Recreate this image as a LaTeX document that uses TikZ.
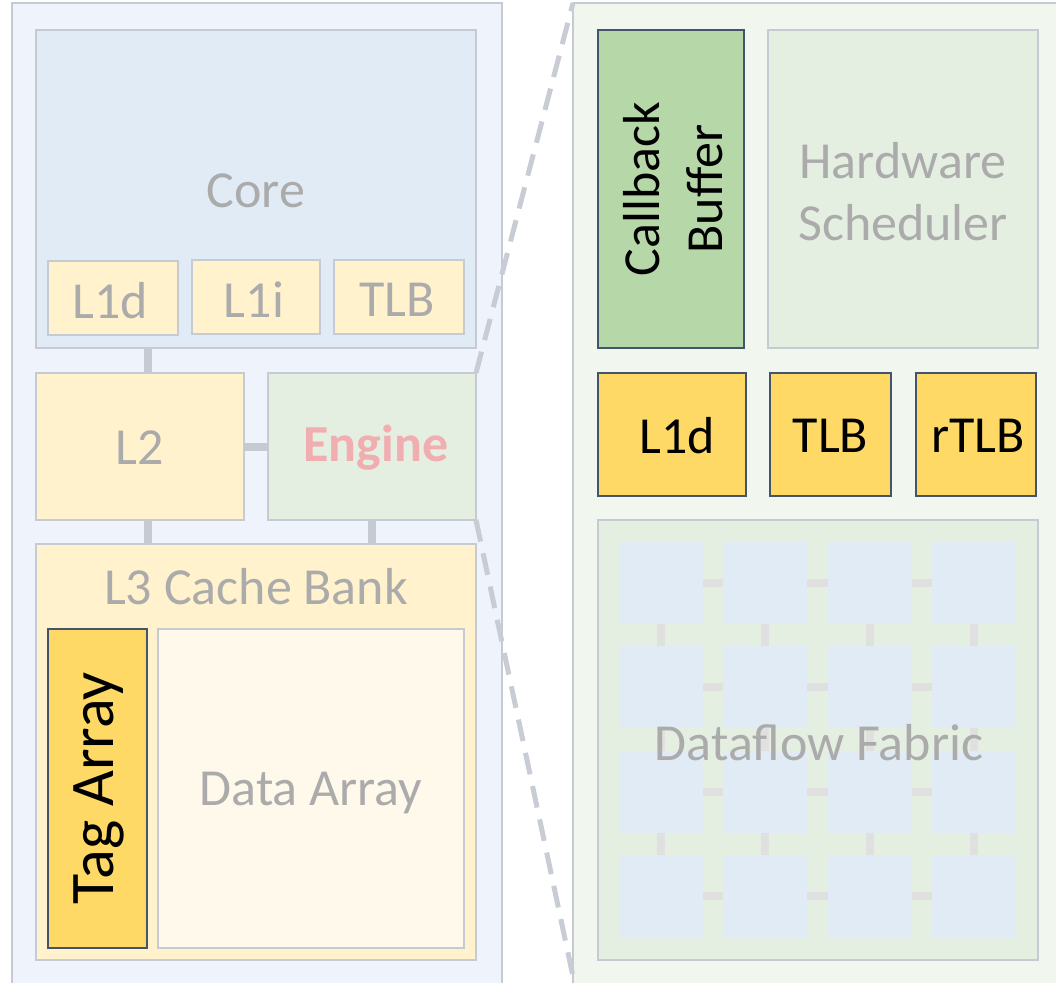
\documentclass[tikz,border=0pt]{standalone}
\usepackage{fontspec}
\setmainfont{Carlito}
\definecolor{bordergray}{HTML}{C5CAD3}
\definecolor{panelblue}{HTML}{EEF3FC}
\definecolor{coreblue}{HTML}{E1EBF6}
\definecolor{lightyellow}{HTML}{FFF2CC}
\definecolor{paleyellow}{HTML}{FFF9EB}
\definecolor{gold}{HTML}{FFD966}
\definecolor{darkedge}{HTML}{44546A}
\definecolor{panelgreen}{HTML}{F1F7EF}
\definecolor{boxgreen}{HTML}{E4EFE2}
\definecolor{cbgreen}{HTML}{B6D7A8}
\definecolor{graytext}{HTML}{ABABAB}
\definecolor{pinktext}{HTML}{F0AEB0}
\definecolor{tileblue}{HTML}{E0EBF6}
\definecolor{linkgray}{HTML}{E0E0E0}
\definecolor{dashgray}{HTML}{C8CCD4}
\tikzset{
  blk/.style={draw=bordergray, line width=1.5pt, inner sep=0pt, outer sep=0pt, rectangle, text=graytext,
     font=\fontsize{52}{62}\selectfont, align=center},
  hot/.style={draw=darkedge, line width=2pt, inner sep=0pt, outer sep=0pt, rectangle, text=black,
     font=\fontsize{52}{63}\selectfont, align=center},
  sz/.style 2 args={minimum width=#1, minimum height=#2},
  link/.style={draw=bordergray, line width=8pt},
  tlink/.style={draw=linkgray, line width=8pt},
  tile/.style={fill=tileblue, draw=none, inner sep=0pt, outer sep=0pt, minimum width=84pt, minimum height=82pt},
  zoomline/.style={draw=dashgray, line width=5pt, dash pattern=on 22pt off 12pt},
  lbl/.style={text=graytext, font=\fontsize{52}{62}\selectfont}
}
\begin{document}
\begin{tikzpicture}[x=1pt,y=-1pt]
\clip (0,0) rectangle (1056,982);
\fill[white] (0,0) rectangle (1056,982);
% panels
\node[blk, fill=panelblue, sz={490pt}{1000pt}] (leftpanel) at (257,503) {};
\node[blk, fill=panelgreen, sz={500pt}{1000pt}] (rightpanel) at (823,503) {};
% left side
\node[blk, fill=coreblue, sz={440pt}{318pt}] (core) at (256,189) {};
\node[lbl] (coretext) at (256,191) {Core};
\node[blk, fill=lightyellow, sz={130pt}{74pt}] (l1d) at (113,298) {};
\node[lbl] (l1dtext) at (110,301) {L1d};
\node[blk, fill=lightyellow, sz={128pt}{74pt}] (l1i) at (256,297) {};
\node[lbl] (l1itext) at (254,300) {L1i};
\node[blk, fill=lightyellow, sz={130pt}{74pt}] (tlb) at (399,297) {};
\node[lbl] (tlbtext) at (397,300) {TLB};
\node[blk, fill=lightyellow, sz={208pt}{147pt}] (l2) at (140,446.5) {};
\node[lbl] (l2text) at (140,448) {L2};
\node[blk, fill=boxgreen, sz={208pt}{147pt}] (engine) at (372,446.5) {};
\node[text=pinktext, font=\fontsize{52}{62}\selectfont\bfseries] (enginetext) at (376,448) {Engine};
\node[blk, fill=lightyellow, sz={440pt}{416pt}] (l3) at (256,752) {};
\node[lbl] (l3text) at (256,587) {L3 Cache Bank};
\node[hot, fill=gold, sz={99pt}{319pt}] (tag) at (97.5,788.5) {};
\node[rotate=90, font=\fontsize{62}{70}\selectfont] (tagtext) at (99,788.5) {Tag Array};
\node[blk, fill=paleyellow, sz={306pt}{319pt}] (data) at (311,788.5) {};
\node[lbl] (datatext) at (311,793) {Data Array};
% left connectors
\draw[link] ([xshift=8pt]l2.north) -- ([xshift=8pt]l2.north |- core.south);
\draw[link] ([xshift=8pt]l2.south) -- ([xshift=8pt]l2.south |- l3.north);
\draw[link] (engine.south) -- (engine.south |- l3.north);
\draw[link] (l2.east) -- (engine.west);
% right side
\node[hot, fill=cbgreen, sz={146pt}{318pt}] (cb) at (671,189) {};
\node[rotate=90, align=center, font=\fontsize{52}{63}\selectfont] (cbtext) at (673,189) {Callback\\Buffer};
\node[blk, fill=boxgreen, sz={270pt}{318pt}] (hs) at (903,189) {};
\node[lbl, align=center] (hstext) at (903,192) {Hardware\\Scheduler};
\node[hot, fill=gold, sz={148pt}{123pt}] (rl1d) at (672,434.5) {};
\node[font=\fontsize{52}{62}\selectfont] (rl1dtext) at (677,436) {L1d};
\node[hot, fill=gold, sz={121pt}{123pt}] (rtlb) at (830.5,434.5) {};
\node[font=\fontsize{52}{62}\selectfont] (rtlbtext) at (830.5,436) {TLB};
\node[hot, fill=gold, sz={120pt}{123pt}] (rrtlb) at (976,434.5) {};
\node[font=\fontsize{52}{62}\selectfont] (rrtlbtext) at (978,436) {rTLB};
\node[blk, fill=boxgreen, sz={440pt}{440pt}] (fabric) at (818,740) {};
% tiles
\foreach \i in {0,1,2,3}{
  \foreach \j in {0,1,2,3}{
    \node[tile] (t-\i-\j) at ({661+104.3*\i},{583+104.3*\j}) {};
  }
}
\foreach \i [evaluate=\i as \n using int(\i+1)] in {0,1,2}{
  \foreach \j in {0,1,2,3}{
    \draw[tlink] (t-\i-\j.east) -- (t-\n-\j.west);
    \draw[tlink] (t-\j-\i.south) -- (t-\j-\n.north);
  }
}
\node[lbl] (fabtext) at (819,743) {Dataflow Fabric};
% zoom lines
\coordinate (lowend) at (578,1000);
\draw[zoomline] (engine.north east) -- (rightpanel.north west);
\draw[zoomline] (engine.south east) -- (lowend);
\end{tikzpicture}
\end{document}
